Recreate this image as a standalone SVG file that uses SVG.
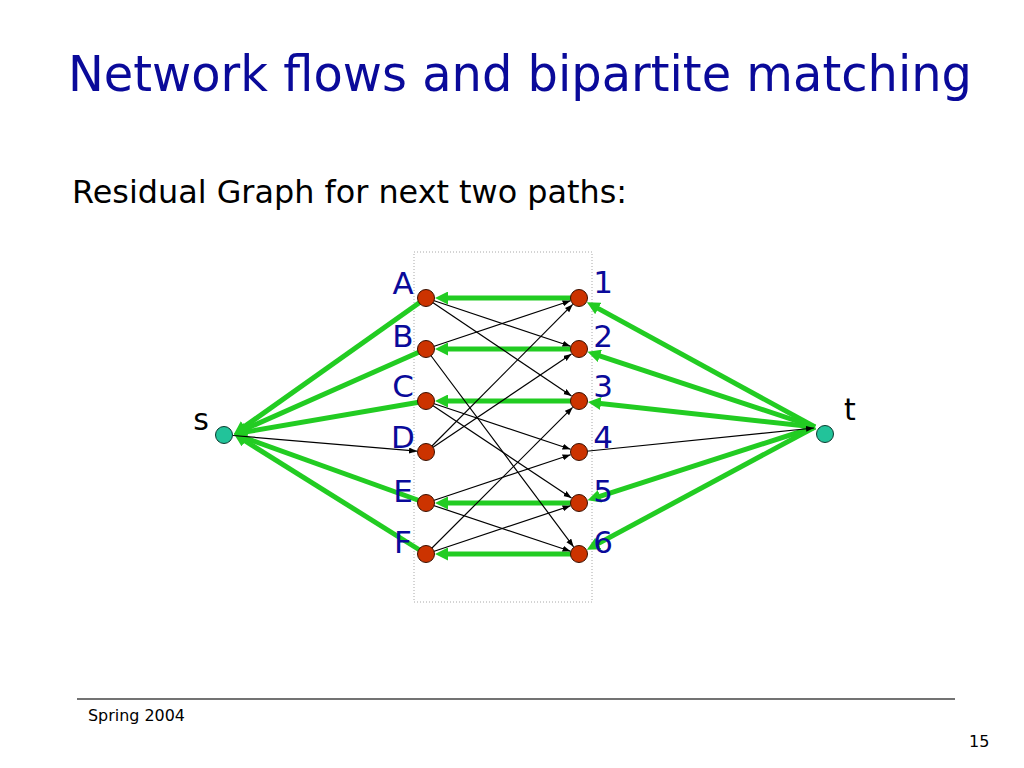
<svg xmlns="http://www.w3.org/2000/svg" width="1024" height="768" viewBox="0 0 1024 768">
<style>
.title{font-family:"DejaVu Sans",sans-serif;font-size:49px;fill:#0a0a9a}
.sub{font-family:"DejaVu Sans",sans-serif;font-size:32px;fill:#000}
.lbl{font-family:"DejaVu Sans",sans-serif;font-size:31px;fill:#0a0a9a;text-anchor:middle}
.st{font-family:"DejaVu Sans",sans-serif;font-size:30px;fill:#000;text-anchor:middle}
.foot{font-family:"DejaVu Sans",sans-serif;font-size:16px;fill:#000}
.node{fill:#cc3300;stroke:#3a1000;stroke-width:1}
.term{fill:#22c39a;stroke:#0b3a2e;stroke-width:1}
.g{stroke:#22cc22;stroke-width:5;fill:none;marker-end:url(#ga)}
.b{stroke:#000;stroke-width:1.2;fill:none;marker-end:url(#ba)}
</style>
<defs>
<marker id="ga" markerUnits="userSpaceOnUse" markerWidth="14" markerHeight="13" refX="5" refY="6.5" orient="auto">
<path d="M0,0 L13,6.5 L0,13 z" fill="#22cc22"/>
</marker>
<marker id="ba" markerUnits="userSpaceOnUse" markerWidth="9" markerHeight="7" refX="8" refY="3" orient="auto">
<path d="M0,0 L8,3 L0,6 z" fill="#000"/>
</marker>
</defs>
<rect width="1024" height="768" fill="#fff"/>
<text class="title" x="68" y="91" textLength="904" lengthAdjust="spacingAndGlyphs">Network flows and bipartite matching</text>
<text class="sub" x="72" y="203" textLength="555" lengthAdjust="spacingAndGlyphs">Residual Graph for next two paths:</text>
<rect x="414" y="252" width="178" height="350" fill="none" stroke="#a8a8a8" stroke-width="1" stroke-dasharray="1,2"/>
<g id="connectors">
<line class="g" x1="579" y1="298" x2="443" y2="298"/>
<line class="g" x1="579" y1="349" x2="443" y2="349"/>
<line class="g" x1="579" y1="401" x2="443" y2="401"/>
<line class="g" x1="579" y1="503" x2="443" y2="503"/>
<line class="g" x1="579" y1="554" x2="443" y2="554"/>
<line class="g" x1="426" y1="298" x2="240.5" y2="429.4"/>
<line class="g" x1="426" y1="349" x2="241.3" y2="430.8"/>
<line class="g" x1="426" y1="401" x2="241.9" y2="432.6"/>
<line class="g" x1="426" y1="503" x2="241.5" y2="436.7"/>
<line class="g" x1="426" y1="554" x2="240.8" y2="438.2"/>
<line class="g" x1="815" y1="427" x2="593.9" y2="306.1"/>
<line class="g" x1="815" y1="427" x2="595.1" y2="354.3"/>
<line class="g" x1="815" y1="427" x2="595.9" y2="402.9"/>
<line class="g" x1="815" y1="427" x2="595.2" y2="497.8"/>
<line class="g" x1="815" y1="427" x2="593.9" y2="545.9"/>
<line class="b" x1="426" y1="298" x2="570.5" y2="346.2"/>
<line class="b" x1="426" y1="298" x2="571.5" y2="396"/>
<line class="b" x1="426" y1="349" x2="570.5" y2="300.8"/>
<line class="b" x1="426" y1="349" x2="573.6" y2="546.8"/>
<line class="b" x1="426" y1="401" x2="570.5" y2="449.2"/>
<line class="b" x1="426" y1="401" x2="571.5" y2="498"/>
<line class="b" x1="426" y1="452" x2="572.7" y2="304.4"/>
<line class="b" x1="426" y1="452" x2="571.5" y2="354"/>
<line class="b" x1="426" y1="503" x2="570.5" y2="454.8"/>
<line class="b" x1="426" y1="503" x2="570.5" y2="551.2"/>
<line class="b" x1="426" y1="554" x2="572.6" y2="407.4"/>
<line class="b" x1="426" y1="554" x2="570.5" y2="505.8"/>
<line class="b" x1="233" y1="435.5" x2="417" y2="451.2"/>
<line class="b" x1="579" y1="452" x2="814" y2="428"/>
</g>
<g id="node-s"><circle class="term" cx="224" cy="435" r="8.5"/><text class="st" x="201" y="430">s</text></g>
<g id="node-t"><circle class="term" cx="825" cy="434" r="8.5"/><text class="st" x="850" y="420">t</text></g>
<g id="node-A"><circle class="node" cx="426" cy="298" r="8.5"/><text class="lbl" x="403" y="294">A</text></g>
<g id="node-B"><circle class="node" cx="426" cy="349" r="8.5"/><text class="lbl" x="403" y="347">B</text></g>
<g id="node-C"><circle class="node" cx="426" cy="401" r="8.5"/><text class="lbl" x="403" y="397">C</text></g>
<g id="node-D"><circle class="node" cx="426" cy="452" r="8.5"/><text class="lbl" x="403" y="448">D</text></g>
<g id="node-E"><circle class="node" cx="426" cy="503" r="8.5"/><text class="lbl" x="403" y="502">E</text></g>
<g id="node-F"><circle class="node" cx="426" cy="554" r="8.5"/><text class="lbl" x="403" y="553">F</text></g>
<g id="node-1"><circle class="node" cx="579" cy="298" r="8.5"/><text class="lbl" x="603" y="293">1</text></g>
<g id="node-2"><circle class="node" cx="579" cy="349" r="8.5"/><text class="lbl" x="603" y="347">2</text></g>
<g id="node-3"><circle class="node" cx="579" cy="401" r="8.5"/><text class="lbl" x="603" y="397">3</text></g>
<g id="node-4"><circle class="node" cx="579" cy="452" r="8.5"/><text class="lbl" x="603" y="448">4</text></g>
<g id="node-5"><circle class="node" cx="579" cy="503" r="8.5"/><text class="lbl" x="603" y="502">5</text></g>
<g id="node-6"><circle class="node" cx="579" cy="554" r="8.5"/><text class="lbl" x="603" y="553">6</text></g>
<line x1="77" y1="699" x2="955" y2="699" stroke="#444" stroke-width="1.3"/>
<text class="foot" x="88" y="721" textLength="97" lengthAdjust="spacingAndGlyphs">Spring 2004</text>
<text class="foot" x="969" y="747">15</text>
</svg>
